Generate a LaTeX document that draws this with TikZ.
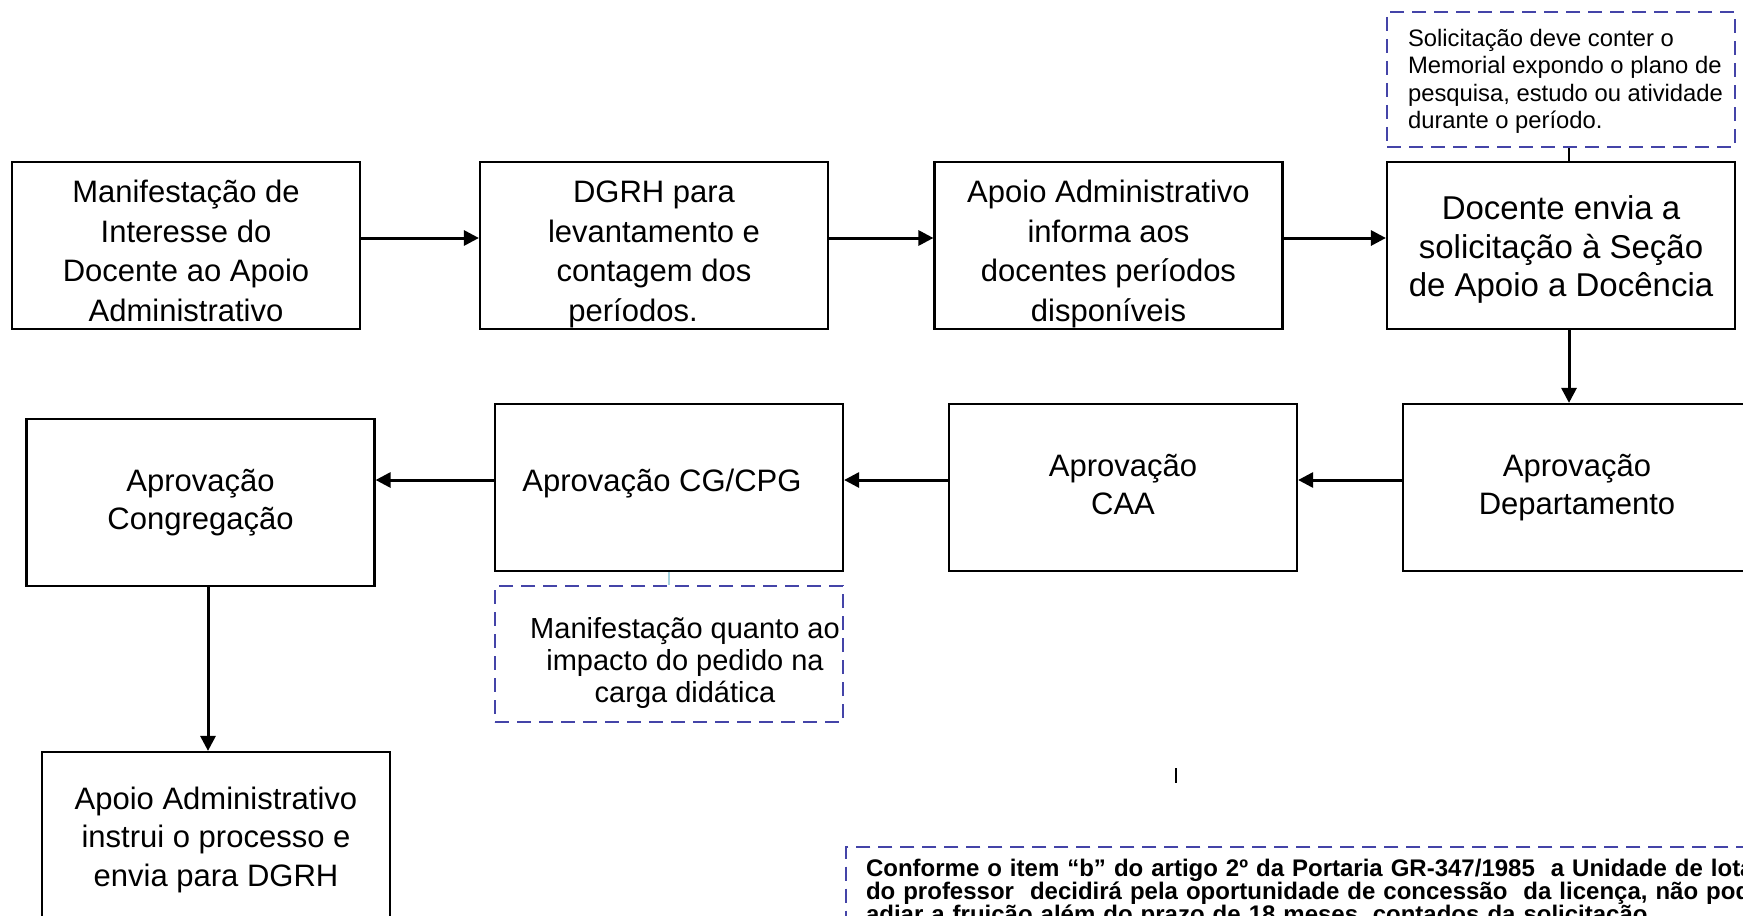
\documentclass[tikz,border=0pt]{standalone}
\usepackage{fontspec}
\setmainfont{Liberation Sans}
\newfontfamily\notefont{Liberation Sans Bold}
\usetikzlibrary{arrows.meta}
\definecolor{notecol}{RGB}{68,68,168}
\definecolor{linkcol}{RGB}{165,210,222}
\newcommand\steptext[2][0pt]{\raisebox{#1}[\height][\depth]{\begin{tabular}{@{}c@{}}#2\end{tabular}}}

\begin{document}
\begin{tikzpicture}[x=0.5pt,y=-0.5pt,
  stepbox/.style={draw=black,line width=1.1pt,minimum width=174pt,minimum height=83.5pt,inner sep=0pt,font=\fontsize{15.5}{19.8}\selectfont},
  rowtwo/.style={font=\fontsize{15.5}{19}\selectfont},
  notebox/.style={draw=notecol,line width=1pt,dash pattern=on 7pt off 4pt,minimum width=174pt,inner sep=0pt},
  arr/.style={line width=1.5pt,-{Triangle[length=7.5pt,width=7.5pt]}}]
\useasboundingbox (0,0) rectangle (1743,915);
\clip (0,0) rectangle (1743,915);
\fill[white] (0,0) rectangle (1743,915);

\node[stepbox] (manif) at (186,245.5) {\steptext[-4.3pt]{Manifestação de\\Interesse do\\Docente ao Apoio\\Administrativo}};
\node[stepbox] (dgrh) at (654,245.5) {\steptext[-4.3pt]{DGRH para\\levantamento e\\contagem dos\\períodos.\hspace*{21pt}}};
\node[stepbox] (informa) at (1108.5,245.5) {\steptext[-4.3pt]{Apoio Administrativo\\informa aos\\docentes períodos\\disponíveis}};
\node[stepbox,font=\fontsize{16.5}{19.2}\selectfont] (envia) at (1561,245.5) {\steptext[-2.6pt]{Docente envia a\\solicitação à Seção\\de Apoio a Docência}};

\node[stepbox,rowtwo] (depto) at (1577,487.5) {\steptext{Aprovação\\Departamento}};
\node[stepbox,rowtwo] (caa) at (1123,487.5) {\steptext{Aprovação\\CAA}};
\node[stepbox,rowtwo] (cgcpg) at (669,487.5) {\steptext[1.75pt]{Aprovação CG/CPG}\hspace*{7pt}};
\node[stepbox,rowtwo] (congr) at (200.5,502.5) {\steptext{Aprovação\\Congregação}};
\node[stepbox,font=\fontsize{15.5}{19.2}\selectfont] (instrui) at (216,835.5) {\steptext[-2.35pt]{Apoio Administrativo\\instrui o processo e\\envia para DGRH}};

\node[notebox,minimum height=67.5pt,font=\fontsize{11.9}{13.7}\selectfont] (memorial) at (1561,79.5) {\hspace*{4.5pt}\raisebox{-1.3pt}[\height][\depth]{\begin{tabular}{@{}l@{}}Solicitação deve conter o\\Memorial expondo o plano de\\pesquisa, estudo ou atividade\\durante o período.\end{tabular}}};
\node[notebox,minimum height=68pt,font=\fontsize{14.5}{16}\selectfont] (impacto) at (669,654) {\hspace*{16pt}\steptext[-5.1pt]{Manifestação quanto ao\\impacto do pedido na\\carga didática}};
\node[notebox,anchor=north west,text width=480pt,inner xsep=10pt,inner ysep=6pt,align=left,font=\notefont\fontsize{12}{11.5}\selectfont] (portaria) at (845,846) {Conforme o item “b” do artigo 2º da Portaria GR-347/1985 \ a Unidade de lotação\\do professor \ decidirá pela oportunidade de concessão \ da licença, não podendo\\adiar a fruição além do prazo de 18 meses, contados da solicitação};

\draw[arr] ([yshift=3.75pt]manif.east) -- ([yshift=3.75pt]dgrh.west);
\draw[arr] ([yshift=3.75pt]dgrh.east) -- ([yshift=3.75pt]informa.west);
\draw[arr] ([yshift=3.75pt]informa.east) -- ([yshift=3.75pt]envia.west);
\draw[arr] ([xshift=4pt]envia.south) -- ([xshift=-4pt]depto.north);
\draw[arr] ([yshift=3.75pt]depto.west) -- ([yshift=3.75pt]caa.east);
\draw[arr] ([yshift=3.75pt]caa.west) -- ([yshift=3.75pt]cgcpg.east);
\draw[arr] ([yshift=3.75pt]cgcpg.west) -- ([yshift=3.75pt]cgcpg.west -| congr.east);
\draw[arr] ([xshift=3.75pt]congr.south) -- ([xshift=3.75pt]congr.south |- instrui.north);

\draw[line width=0.8pt] ([xshift=4pt]memorial.south) -- ([xshift=4pt]envia.north);
\draw[linkcol,line width=0.8pt] (cgcpg.south) -- (impacto.north);
\draw[line width=1pt] (1176,768) -- (1176,783);
\end{tikzpicture}
\end{document}
